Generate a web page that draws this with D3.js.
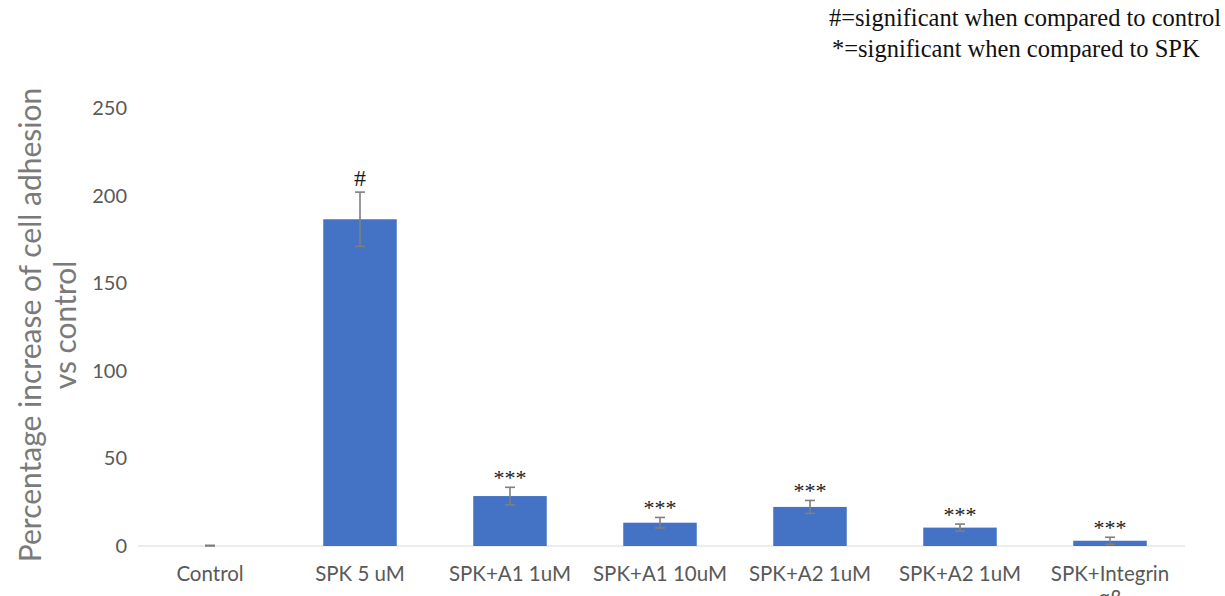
<!DOCTYPE html>
<html>
<head>
<meta charset="utf-8">
<script src="https://cdn.jsdelivr.net/npm/d3@7"></script>
<style>
  html, body { margin: 0; padding: 0; background: #ffffff; }
  svg { display: block; }
</style>
</head>
<body>
<script>
// Cell adhesion relative to control, mean ± error per treatment
const categories = ["Control", "SPK 5 uM", "SPK+A1 1uM", "SPK+A1 10uM", "SPK+A2 1uM", "SPK+A2 1uM ", "SPK+Integrin\nαβ"];
const values = [0, 186.5, 28.5, 13.3, 22.3, 10.5, 3];
const errors = [0.4, 15.5, 5, 3, 3.7, 2, 2];
const marks = ["", "#", "***", "***", "***", "***", "***"];
const yTicks = [0, 50, 100, 150, 200, 250];
const legendLines = ["#=significant when compared to control", "*=significant when compared to SPK"];

const W = 1225, H = 596;
const margin = { left: 135, right: 40, top: 108, bottom: 50 };

const svg = d3.select("body").append("svg").attr("width", W).attr("height", H);

const x = d3.scaleBand()
  .domain(categories)
  .range([margin.left, W - margin.right])
  .paddingInner(0.51)
  .paddingOuter(0.255);

const y = d3.scaleLinear().domain([0, 250]).range([H - margin.bottom, margin.top]);

// Y axis: labels only
const yAxis = svg.append("g")
  .attr("transform", `translate(${margin.left - 8},0)`)
  .call(d3.axisLeft(y).tickValues(yTicks).tickSize(0).tickPadding(0));
yAxis.select(".domain").remove();
yAxis.selectAll("text")
  .attr("fill", "#595959")
  .style("font-family", "Lato, 'Open Sans', sans-serif")
  .style("font-size", "20px");

// Category baseline
svg.append("line")
  .attr("x1", margin.left + 3).attr("x2", W - margin.right)
  .attr("y1", y(0)).attr("y2", y(0))
  .attr("stroke", "#d9d9d9").attr("stroke-width", 1.2);

// Category labels (multi-line where needed)
const xAxis = svg.append("g")
  .attr("transform", `translate(0,${y(0)})`)
  .call(d3.axisBottom(x).tickSize(0).tickPadding(0).tickFormat(""));
xAxis.select(".domain").remove();
xAxis.selectAll(".tick").each(function(d) {
  const lines = d.split("\n");
  const t = d3.select(this).append("text")
    .attr("fill", "#595959")
    .attr("text-anchor", "middle")
    .style("font-family", "Lato, 'Open Sans', sans-serif")
    .style("font-size", "20.5px");
  lines.forEach((ln, i) => {
    t.append("tspan").attr("x", 0).attr("y", 35 + i * 24).text(ln.trim());
  });
});

// Bars
svg.append("g").selectAll("rect")
  .data(categories)
  .join("rect")
  .attr("x", d => x(d))
  .attr("width", x.bandwidth())
  .attr("y", (d, i) => y(values[i]))
  .attr("height", (d, i) => y(0) - y(values[i]))
  .attr("fill", "#4472c4");

// Error bars
const eb = svg.append("g").attr("stroke", "#7f7f7f").attr("stroke-width", 1.6);
categories.forEach((c, i) => {
  const cx = x(c) + x.bandwidth() / 2;
  const lo = y(Math.max(0, values[i] - errors[i]));
  const hi = y(values[i] + errors[i]);
  eb.append("line").attr("x1", cx).attr("x2", cx).attr("y1", lo).attr("y2", hi);
  eb.append("line").attr("x1", cx - 5).attr("x2", cx + 5).attr("y1", hi).attr("y2", hi);
  eb.append("line").attr("x1", cx - 5).attr("x2", cx + 5).attr("y1", lo).attr("y2", lo);
});

// Significance marks above error bars
categories.forEach((c, i) => {
  if (!marks[i]) return;
  const cx = x(c) + x.bandwidth() / 2;
  const top = y(values[i] + errors[i]);
  const isHash = marks[i] === "#";
  svg.append("text")
    .attr("x", cx)
    .attr("y", isHash ? top - 6 : top - 2)
    .attr("text-anchor", "middle")
    .attr("fill", "#1a1a1a")
    .style("font-family", "'Liberation Serif', serif")
    .style("font-size", isHash ? "24px" : "22px")
    .text(marks[i]);
});

// Y axis title, two lines
const yt = svg.append("text")
  .attr("transform", `translate(0,${325}) rotate(-90)`)
  .attr("text-anchor", "middle")
  .attr("fill", "#7a7a7a")
  .style("font-family", "Lato, 'Open Sans', sans-serif")
  .style("font-size", "30px");
yt.append("tspan").attr("x", 0).attr("y", 41).text("Percentage increase of cell adhesion");
yt.append("tspan").attr("x", 0).attr("y", 76).text("vs control");

// Legend notes, top right
svg.append("g").selectAll("text")
  .data(legendLines)
  .join("text")
  .attr("x", (d, i) => i === 0 ? 829 : 832)
  .attr("y", (d, i) => 26 + i * 31)
  .attr("fill", "#111")
  .style("font-family", "'Liberation Serif', 'Times New Roman', serif")
  .style("font-size", "24.5px")
  .text(d => d);
</script>
</body>
</html>
